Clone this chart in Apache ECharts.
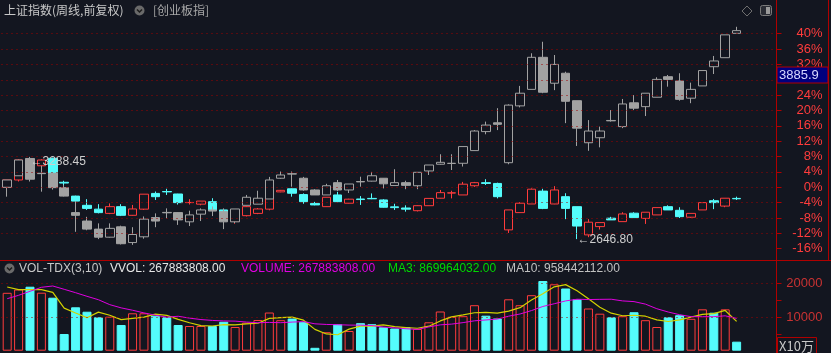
<!DOCTYPE html>
<html><head><meta charset="utf-8">
<script src="https://cdn.jsdelivr.net/npm/echarts@6/dist/echarts.min.js"></script>
<style>html,body{margin:0;padding:0;background:#131620;}#c{width:831px;height:353px;}</style>
</head><body><div id="c"></div>
<script>
// ---- data (percent change, [open, close, low, high]) ----
const mainTitle = '上证指数(周线,前复权)';
const overlayTitle = '[创业板指]';
const mainK = [
[0,1.9,-2.2,1.9],[1.9,7.1,1.5,7.3],[7.1,5.6,4.9,7.9],[5.6,7.1,5.3,7.3],[7.55,3.65,3.4,7.7],
[1.3,1.1,0.2,1.7],[-2.3,-3.6,-6.2,-2.2],[-4.7,-5.5,-5.9,-3.1],[-5.7,-6.6,-6.8,-4.4],[-6.8,-5.05,-7.0,-4.2],
[-5.05,-7.3,-7.5,-4.4],[-7.3,-5.65,-7.4,-4.6],[-5.7,-1.8,-5.9,-1.8],[-1.6,-2.45,-3.3,-1.1],[-1.1,-1.2,-2.0,-0.4],
[-1.75,-4.0,-4.5,-1.7],[-4.0,-3.95,-4.5,-3.1],[-4.4,-3.6,-4.7,-3.6],[-3.75,-5.9,-6.0,-2.85],[-5.9,-7.4,-7.9,-5.8],
[-8.8,-7.4,-9.5,-7.2],[-7.4,-5.05,-7.6,-4.9],[-6.8,-5.65,-7.0,-5.4],[-5.7,-2.85,-6.0,-2.85],[-1.2,-0.8,-1.3,-0.7],
[-0.4,-1.55,-2.45,-0.3],[-1.9,-3.75,-4.3,-1.6],[-4.2,-4.6,-4.7,-3.8],[-5.05,-2.6,-5.1,-2.6],[-2.0,-3.75,-3.9,-1.2],
[-4.15,-3.1,-4.2,-3.0],[-3.05,-3.2,-4.6,-2.3],[-2.9,-3.0,-3.1,-1.6],[-3.3,-5.2,-5.3,-3.1],[-5.1,-5.3,-5.9,-4.3],
[-5.4,-5.7,-6.35,-4.7],[-6.1,-4.8,-6.3,-4.7],[-4.8,-2.9,-4.8,-2.9],[-2.85,-1.4,-2.9,-0.7],[-1.5,-1.45,-2.9,-0.9],
[-2.0,0.8,-2.0,1.4],[0.4,1.2,0.1,1.4],[1.2,1.0,0.6,2.1],[1.0,-2.45,-2.9,1.2],[-11.1,-5.9,-11.9,-5.9],
[-6.6,-4.15,-6.6,-3.9],[-4.35,-0.5,-4.35,-0.3],[-1.0,-5.5,-5.7,-0.4],[-4.35,-0.7,-4.4,0.3],[-2.45,-5.5,-8.3,-1.55],
[-5.05,-10.1,-13.5,-5.05],[-12.4,-9.1,-13.0,-8.3],[-10.25,-9.2,-11.0,-9.2],[-8.05,-8.5,-8.5,-7.7],[-8.95,-6.95,-8.95,-6.5],
[-6.75,-7.9,-7.9,-6.5],[-8.1,-6.5,-9.55,-6.5],[-7.2,-5.3,-7.2,-5.3],[-5.05,-5.9,-5.9,-4.7],[-6.0,-7.65,-8.0,-5.2],
[-7.8,-6.8,-8.0,-6.8],[-5.9,-4.0,-5.9,-4.0],[-3.5,-4.0,-5.7,-3.05],[-4.9,-2.85,-5.2,-2.85],[-2.9,-3.0,-3.3,-2.45]
];
const overlayK = [
[0,1.9,-2.45,1.9],[3.0,7.1,3.0,7.1],[7.5,2.1,1.5,7.9],[3.65,3.55,-1.15,5.6],[3.65,-0.1,-0.6,3.65],
[-0.1,-2.3,-2.4,0.6],[-6.6,-7.3,-11.6,-3.6],[-8.8,-10.9,-11.2,-7.7],[-10.9,-13.0,-13.5,-9.4],[-13.0,-10.7,-13.1,-9.4],
[-10.3,-14.7,-14.9,-10.0],[-14.4,-12.3,-15.0,-10.4],[-12.9,-8.3,-13.4,-7.6],[-7.9,-8.8,-10.4,-6.8],[-6.55,-6.65,-8.1,-5.5],
[-6.6,-8.5,-9.8,-6.5],[-9.0,-7.2,-10.1,-6.1],[-7.0,-5.9,-8.8,-5.5],[-5.9,-6.2,-7.5,-5.0],[-6.35,-9.0,-10.9,-5.5],
[-9.0,-5.65,-9.3,-5.65],[-4.7,-2.6,-4.7,-2.0],[-4.4,-2.85,-4.4,-0.9],[-3.05,1.9,-3.05,2.7],[2.35,3.2,2.2,4.1],
[3.5,3.45,0.15,4.1],[2.35,-0.7,-0.9,2.7],[-0.7,-2.0,-2.0,-0.5],[-2.0,0.4,-2.0,0.9],[1.2,-0.7,-1.0,1.9],
[-0.7,0.85,-1.5,0.85],[1.5,1.4,0.15,2.75],[1.6,3.0,1.5,4.0],[2.35,0.9,-0.3,2.4],[0.45,1.2,0.45,4.7],
[1.2,0.5,-0.5,1.7],[0.4,3.9,-0.5,3.9],[4.25,5.8,3.2,5.8],[6.0,6.5,5.9,8.6],[6.2,6.25,4.5,8.6],
[6.25,10.6,5.4,10.6],[9.55,14.65,9.55,14.9],[14.5,16.2,13.8,17.1],[16.8,16.4,14.9,20.6],[6.4,21.4,6.0,21.6],
[21.2,24.5,20.8,26.4],[25.5,33.85,25.5,34.9],[33.85,24.75,24.5,37.9],[27.1,32.0,25.3,34.45],[29.7,22.4,16.7,30.1],
[22.55,15.4,10.76,22.55],[11.6,14.65,9.5,17.5],[12.9,14.65,10.4,15.8],[17.4,17.3,17.1,20.1],[15.8,21.7,15.4,23.0],
[22.0,20.6,20.1,24.0],[21.0,24.5,18.55,24.5],[23.45,28.1,23.45,28.65],[28.8,28.1,26.2,29.25],[27.7,22.9,22.55,29.7],
[23.2,25.5,21.9,27.25],[26.4,30.4,26.4,30.4],[31.4,32.9,29.5,34.2],[33.75,39.7,33.75,39.7],[40.1,40.8,40.1,41.8]
];
// volume in units of 10万
const volume = [17180,18160,18990,17210,15725,4955,12880,11570,9910,10090,
7625,11100,11100,10385,9910,7625,7330,7330,7330,8600,
7030,8310,9110,11330,9050,9550,8575,860,5490,7860,
5845,8160,7860,6940,6590,6970,6440,8425,11630,10060,
10240,13500,10385,9550,15250,13500,16470,20680,19700,18455,
15250,12520,10980,9910,10240,11420,9050,7030,9910,10530,
9465,12280,11275,12280,2679];
const ma3 = [18900,18100,18110,18120,17308,12630,11187,9802,11453,10523,
9208,9605,9942,10862,10465,9307,8288,7428,7330,7753,
7653,7980,8150,9583,9830,9977,9058,6328,4975,4737,
6398,7288,7288,7653,7130,6833,6667,7278,8832,10038,
10643,11267,11375,11145,11728,12767,15073,16883,18950,19612,
17802,15408,12917,11137,10377,10523,10237,9167,8663,9157,
9968,10758,11007,11945,8700];
const ma10 = [15430,16440,17620,18810,19200,18220,17210,16140,15130,13667,
12712,12006,11217,10534,9953,10220,9665,9241,8983,8834,
8774,8495,8296,8391,8305,8497,8622,7975,7791,7717,
7598,7583,7458,7019,6773,6515,6302,7058,7672,7892,
8332,8866,9118,9379,10245,10898,11901,13127,13934,14773,
15274,15176,15236,15272,14771,14563,13821,12456,11477,10684,
10106,10082,10111,10348,9584];
const blankSlots = 3;
const pctGridLevels = [40,36,32,28,24,20,16,12,8,4,0,-4,-8,-12];
const volGridLevels = [20000,10000];
const volLabelValues = [10000,20000];
const highMark = {index: 2, pct: 7.9, price: '3288.45'};
const lowMark = {index: 50, pct: -13.5, price: '2646.80'};
const cursorPrice = '3885.9';
const headerTexts = [
  {t: 'VOL-TDX(3,10)', x: 19, c: '#c8c8c8'},
  {t: 'VVOL: 267883808.00', x: 110, c: '#e6e6e6'},
  {t: 'VOLUME: 267883808.00', x: 241, c: '#e000e0'},
  {t: 'MA3: 869964032.00', x: 388, c: '#00d800'},
  {t: 'MA10: 958442112.00', x: 506, c: '#c0c0c0'}
];

// ---- styling ----
const BG = '#131620', RED = '#ff3c3c', CYAN = '#54fcfc', GRAY = '#a2a2a2';
const AX = '#b00000', DOT = '#a00000';
const F = '"Liberation Sans", Arial, sans-serif';
const FC = '"Noto Sans CJK SC", sans-serif';

const n = mainK.length + blankSlots;
const cats = Array.from({length: n}, (_, i) => String(i));

const volData = volume.map((v, i) => {
  const up = mainK[i][1] >= mainK[i][0];
  return {value: v, itemStyle: up ? {color: BG, borderColor: RED, borderWidth: 1} : {color: CYAN, borderColor: CYAN, borderWidth: 1}};
});

const chart = echarts.init(document.getElementById('c'), null, {renderer: 'canvas'});
const gridL = 1.5, gridR = 54.5;
chart.setOption({
  backgroundColor: BG,
  animation: false,
  grid: [
    {left: gridL, right: gridR, top: 33.7, bottom: 104.3},
    {left: gridL, right: gridR, top: 283.3, bottom: 2.3}
  ],
  xAxis: [
    {type: 'category', gridIndex: 0, data: cats, boundaryGap: true, show: false},
    {type: 'category', gridIndex: 1, data: cats, boundaryGap: true, show: false}
  ],
  yAxis: [
    {type: 'value', gridIndex: 0, position: 'right', min: -16, max: 40, interval: 4,
     axisLine: {show: false}, splitLine: {show: false},
     axisTick: {show: true, length: 5, lineStyle: {color: AX}},
     axisLabel: {color: RED, fontSize: 13, fontFamily: F, align: 'right', margin: 46, formatter: v => v + '%'}},
    {type: 'value', gridIndex: 1, position: 'right', min: 0, max: 20000, interval: 5000,
     axisLine: {show: false}, splitLine: {show: false},
     axisTick: {show: true, length: 5, lineStyle: {color: AX}},
     axisLabel: {color: '#c83232', fontSize: 13, fontFamily: F, align: 'right', margin: 46,
       formatter: v => volLabelValues.indexOf(v) >= 0 ? String(v) : ''}}
  ],
  series: [
    {type: 'line', xAxisIndex: 0, yAxisIndex: 0, data: [], z: 0, silent: true,
     markLine: {symbol: 'none', silent: true, label: {show: false},
       lineStyle: {color: DOT, type: [1, 4], width: 1},
       data: pctGridLevels.map(v => ({yAxis: v}))}},
    {type: 'line', xAxisIndex: 1, yAxisIndex: 1, data: [], z: 0, silent: true,
     markLine: {symbol: 'none', silent: true, label: {show: false},
       lineStyle: {color: DOT, type: [1, 4], width: 1},
       data: volGridLevels.map(v => ({yAxis: v}))}},
    {type: 'candlestick', name: 'main', xAxisIndex: 0, yAxisIndex: 0, data: mainK, barWidth: 9, z: 2, clip: false,
     itemStyle: {color: BG, color0: CYAN, borderColor: RED, borderColor0: CYAN, borderWidth: 1},
     markPoint: {symbol: 'circle', symbolSize: 1, itemStyle: {color: 'rgba(0,0,0,0)'}, silent: true,
       label: {show: true, position: 'right', distance: 0, color: '#cfcfcf', fontSize: 12, fontFamily: F,
         formatter: p => '\u2190' + p.name},
       data: [
         {name: highMark.price, coord: [cats[highMark.index], highMark.pct], label: {offset: [0, 5]}},
         {name: lowMark.price, coord: [cats[lowMark.index], lowMark.pct], label: {offset: [0, 1]}}
       ]}},
    {type: 'candlestick', name: 'overlay', xAxisIndex: 0, yAxisIndex: 0, data: overlayK, barWidth: 9, z: 3, clip: false,
     itemStyle: {color: BG, color0: GRAY, borderColor: GRAY, borderColor0: GRAY, borderWidth: 1}},
    {type: 'bar', xAxisIndex: 1, yAxisIndex: 1, data: volData, barWidth: 9, z: 2, clip: false},
    {type: 'line', xAxisIndex: 1, yAxisIndex: 1, data: ma3, symbol: 'none', z: 4, clip: false,
     lineStyle: {color: '#d2d200', width: 1.2}},
    {type: 'line', xAxisIndex: 1, yAxisIndex: 1, data: ma10, symbol: 'none', z: 4, clip: false,
     lineStyle: {color: '#e000e0', width: 1}}
  ],
  graphic: [
    {type: 'line', shape: {x1: 776.5, y1: 0, x2: 776.5, y2: 353}, style: {stroke: AX, lineWidth: 1}, z: 10},
    {type: 'line', shape: {x1: 828.5, y1: 0, x2: 828.5, y2: 260.5}, style: {stroke: AX, lineWidth: 1}, z: 10},
    {type: 'line', shape: {x1: 0, y1: 260.5, x2: 831, y2: 260.5}, style: {stroke: AX, lineWidth: 1}, z: 10},
    {type: 'text', x: 4, y: 10.5, style: {text: mainTitle, fill: '#c8c8c8', font: '12px ' + FC, textVerticalAlign: 'middle'}, z: 10},
    {type: 'circle', shape: {cx: 139.5, cy: 10.5, r: 5}, style: {fill: '#6a6a6a'}, z: 10},
    {type: 'polyline', shape: {points: [[137, 9.5], [139.5, 12], [142, 9.5]]}, style: {stroke: '#1c1c1c', lineWidth: 1.5, fill: null}, z: 11},
    {type: 'text', x: 153, y: 10.5, style: {text: overlayTitle, fill: '#a8a8a8', font: '12px ' + FC, textVerticalAlign: 'middle'}, z: 10},
    {type: 'polygon', shape: {points: [[747, 6], [752, 11], [747, 16], [742, 11]]}, style: {stroke: '#6e6e6e', fill: null, lineWidth: 1}, z: 10},
    {type: 'rect', shape: {x: 760.5, y: 5.5, width: 11, height: 10, r: 2}, style: {stroke: '#7a7a7a', fill: '#2a2c34', lineWidth: 1}, z: 10},
    {type: 'rect', shape: {x: 766, y: 7, width: 4, height: 7}, style: {fill: '#9a9a9a'}, z: 11},
    {type: 'rect', shape: {x: 777, y: 67, width: 51, height: 16}, style: {fill: '#00007e', stroke: '#b00000', lineWidth: 1}, z: 12},
    {type: 'text', x: 779, y: 75.5, style: {text: cursorPrice, fill: '#d8d8ff', font: '13px ' + F, textVerticalAlign: 'middle'}, z: 13},
    {type: 'circle', shape: {cx: 9.5, cy: 268.5, r: 5}, style: {fill: '#6a6a6a'}, z: 10},
    {type: 'polyline', shape: {points: [[7, 267.5], [9.5, 270], [12, 267.5]]}, style: {stroke: '#1c1c1c', lineWidth: 1.5, fill: null}, z: 11}
  ].concat(headerTexts.map(h => ({type: 'text', x: h.x, y: 268.5,
      style: {text: h.t, fill: h.c, font: '12px ' + F, textVerticalAlign: 'middle'}, z: 10})))
   .concat([
    {type: 'rect', shape: {x: 777.5, y: 337.5, width: 39, height: 16}, style: {stroke: '#b00000', fill: BG, lineWidth: 1}, z: 12},
    {type: 'text', x: 779, y: 346, style: {text: 'X10万', fill: '#c8c8c8', font: '13px ' + FC, textVerticalAlign: 'middle'}, z: 13}
  ])
});
</script></body></html>
